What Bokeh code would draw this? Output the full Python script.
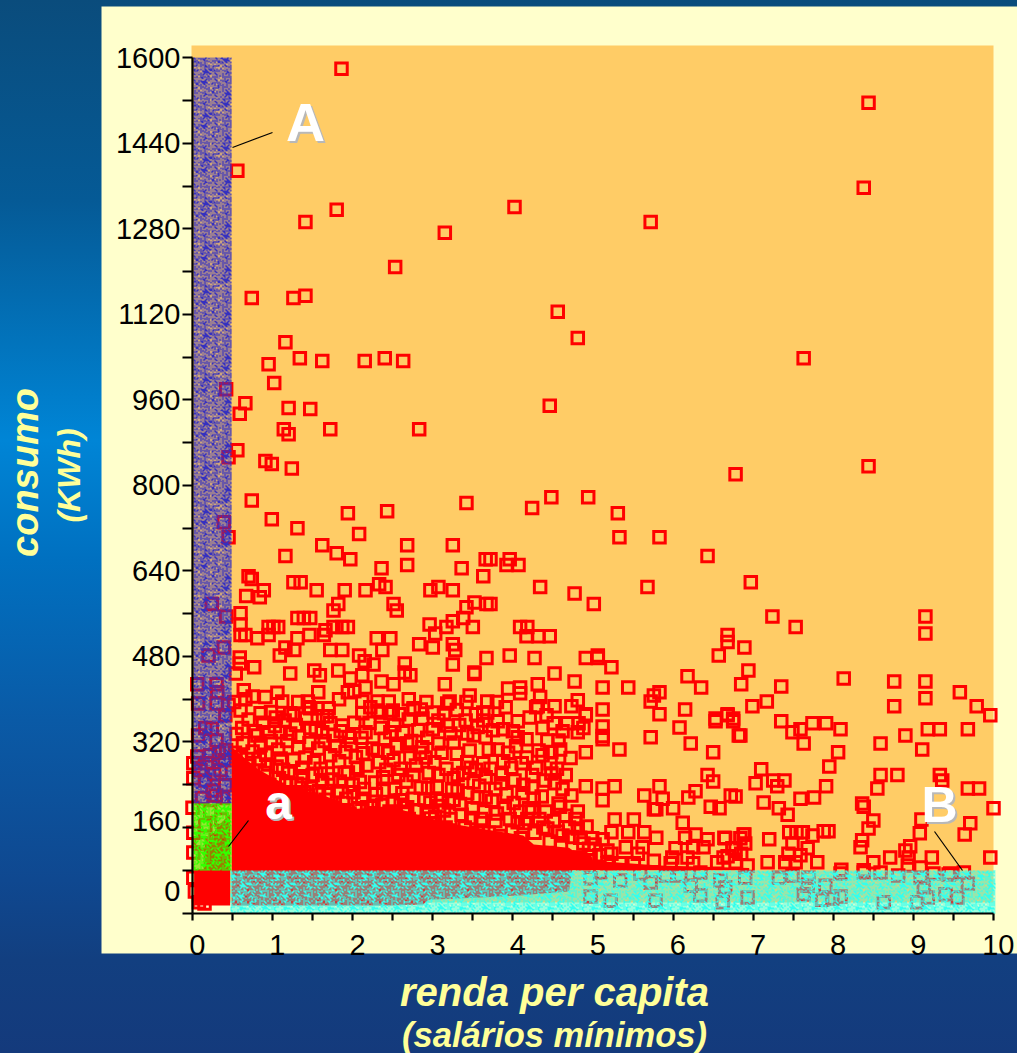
import numpy as np
from bokeh.embed import file_html
from bokeh.resources import INLINE
from bokeh.plotting import figure
from bokeh.models import ColumnDataSource, FixedTicker, GlobalInlineStyleSheet, Range1d
from bokeh.core.properties import value

# (renda per capita, consumo)
pontos_altos = [(1.86,1580),(8.44,1516),(8.38,1357),(0.56,1389),(1.41,1293),(1.80,1316),(3.15,1273),(4.02,1321),(5.72,1293),(2.53,1209),(0.74,1151),(1.26,1151),(1.41,1155),(4.56,1125),(1.16,1068),(4.81,1076),(0.95,1027),(1.34,1038),(1.62,1033),(2.15,1033),(2.40,1038),(2.63,1033),(7.63,1038),(1.02,992),(0.42,980),(1.20,945),(0.66,954),(0.59,934),(1.47,943),(4.46,949),(1.72,905),(1.14,905),(1.20,896),(2.83,905),(0.56,866),(0.45,853),(0.91,846),(0.99,840),(1.24,832),(6.78,821),(8.44,836)]
pontos_700 = [(0.74,772),(0.99,737),(1.31,720),(1.94,748),(2.43,752),(3.42,767),(2.08,709),(0.39,731),(0.45,703),(1.62,688),(1.80,673),(1.97,662),(1.16,668),(2.68,688),(2.68,651),(3.25,688),(3.66,662),(3.36,645),(2.36,645),(3.63,630),(0.70,630),(0.74,625),(1.26,619),(1.35,619),(0.89,604),(0.84,591),(0.67,593),(1.55,604),(1.90,604),(2.16,604),(2.33,615),(2.41,610),(2.97,604),(3.07,610),(3.25,604),(1.82,578),(1.76,566),(2.51,578),(2.55,566),(0.24,578),(0.42,555),(0.60,561),(1.31,552),(1.39,552),(1.47,552),(3.42,572),(3.52,581),(3.67,578),(3.38,552),(3.25,546),(2.96,540),(3.17,535),(3.03,523),(3.50,535)]
pontos_500 = [(0.60,540),(0.95,535),(1.01,535),(1.07,535),(0.60,520),(0.66,520),(0.81,514),(0.95,520),(1.31,514),(1.46,520),(1.64,520),(1.66,529),(1.76,535),(1.87,535),(1.94,535),(1.16,497),(1.27,492),(1.09,482),(1.72,492),(1.87,492),(2.30,514),(2.47,514),(2.37,492),(2.83,503),(3.00,497),(3.25,503),(3.28,492),(2.08,482),(2.15,471),(2.26,465),(2.65,467),(2.72,445),(2.65,450),(3.25,465),(3.67,477),(3.52,447),(3.52,450),(3.15,428),(3.46,407),(3.21,396),(3.68,396),(0.20,482),(0.39,497),(0.59,478),(0.59,467),(0.77,460),(0.54,448),(1.22,448),(1.52,454),(1.59,445),(1.82,454),(1.97,439),(2.12,445),(2.36,433),(2.51,428),(1.94,413),(2.16,422),(0.06,428),(0.30,428),(0.31,413),(0.64,417),(0.91,404),(1.12,396),(1.57,413),(1.44,396),(0.07,392),(0.45,389),(1.70,383),(2.12,396),(2.31,396),(2.45,396),(2.76,381),(2.85,381),(3.01,375),(0.60,379),(0.85,374),(1.22,374),(1.47,383),(2.12,374),(2.31,379),(2.50,379),(3.63,375)]
pontos_centro = [(4.24,758),(4.48,778),(4.94,778),(5.31,748),(5.33,703),(5.83,703),(6.43,668),(3.96,662),(3.92,651),(4.07,651),(3.72,662),(4.34,610),(4.77,598),(5.01,578),(5.68,610),(3.72,578),(4.18,535),(4.17,518),(4.32,518),(4.46,518),(4.09,535),(3.96,482),(4.27,477),(4.91,477),(5.06,482),(5.06,477),(5.23,460),(4.52,448),(4.77,433),(5.12,422),(5.44,422),(4.09,422),(4.09,411),(4.31,428),(4.34,404),(4.31,387),(4.52,387),(4.73,387),(4.81,398),(4.91,372),(5.12,381),(5.83,413),(5.76,407),(5.72,396),(5.83,372),(6.15,381),(6.68,520),(6.68,507),(6.57,482),(6.89,497),(6.94,454),(6.85,428),(6.18,443),(6.35,422),(6.99,387),(6.68,372),(6.53,364),(6.75,364),(6.97,619)]
pontos_direita = [(7.24,555),(7.53,535),(7.35,424),(7.17,396),(8.13,439),(8.76,433),(8.76,387),(9.15,555),(9.15,523),(9.15,433),(9.15,402),(9.58,413),(9.79,387),(9.96,370),(7.35,359),(7.49,338),(7.59,344),(7.74,355),(7.91,355),(8.09,344),(7.63,317),(8.06,301),(7.95,274),(8.59,317),(8.90,332),(9.18,344),(9.33,344),(9.68,344),(9.11,306),(7.10,269),(7.03,243),(7.25,248),(7.39,248),(7.30,237),(7.91,237),(7.59,214),(7.76,216),(8.59,258),(8.80,258),(8.55,233),(9.33,258),(9.36,248),(9.68,233),(9.82,233),(8.36,205),(6.84,332),(6.72,220),(6.78,218),(7.13,207),(7.32,196),(7.43,184),(10.0,196),(9.71,168),(9.64,147),(8.38,199),(8.50,173),(8.44,158),(9.10,175),(9.08,149),(8.36,136),(8.34,123),(9.96,104),(9.23,104),(8.96,125),(8.90,117),(8.94,104),(8.71,104),(8.50,95),(8.38,80),(8.10,81),(7.80,95),(7.18,95),(7.20,138),(6.93,89),(7.45,151),(7.54,151),(7.62,151),(7.49,130),(7.44,111),(7.59,108),(7.40,95),(7.53,95),(7.68,121),(7.74,145),(7.88,153),(7.94,153),(6.89,147),(6.84,140),(6.65,140),(6.74,121),(6.63,104),(8.93,89),(9.09,85),(9.46,74),(9.63,76)]
pontos_faixa = [(6.90,66),(7.32,66),(7.49,70),(7.69,66),(8.09,74),(8.38,76),(8.59,76),(8.81,70),(9.09,66),(9.25,74),(9.44,72),(9.68,55),(9.13,48),(7.68,51),(7.90,51),(7.63,35),(6.93,29),(8.09,31),(7.86,25),(7.99,27),(8.63,20),(9.05,20),(9.18,29),(9.40,35),(9.55,29),(6.62,20),(6.65,48),(4.97,65),(4.97,31),(5.22,23),(5.78,23),(5.72,57),(6.09,70),(6.34,76),(6.59,61),(6.34,33),(5.09,76),(5.34,61),(5.59,74),(5.91,70),(6.22,51)]
pontos_meio = [(4.06,359),(3.88,344),(3.81,359),(4.37,346),(4.51,355),(4.68,355),(4.82,355),(4.91,370),(4.81,338),(4.88,346),(5.12,349),(5.12,331),(5.12,325),(5.72,329),(6.08,347),(6.22,317),(6.53,359),(6.68,370),(6.75,359),(6.82,332),(6.50,301),(6.43,258),(6.50,246),(5.33,306),(4.91,301),(4.06,329),(4.17,325),(4.43,323),(4.57,323),(4.59,306),(4.37,295),(4.17,291),(4.48,301),(3.81,306),(3.88,284),(4.47,280),(4.48,261),(4.52,243),(3.86,259),(4.24,258),(4.02,248),(3.85,243),(4.24,235),(4.91,237),(4.73,220),(5.12,233),(5.12,211),(5.27,237),(4.57,205),(4.59,199),(4.81,190),(4.26,214),(4.09,190),(4.24,190),(5.64,220),(5.83,237),(5.87,214),(5.76,194),(5.79,194),(6.00,196),(6.19,216),(6.28,228),(6.47,199),(6.58,196),(5.27,175),(5.51,175),(6.12,169),(5.64,151),(5.23,151),(5.44,151),(4.81,158),(4.43,158),(4.62,145),(4.84,141),(5.12,138),(5.79,141),(6.28,147),(6.15,141),(6.43,138),(6.64,141),(6.88,147),(6.03,121),(5.18,117),(5.41,123),(5.62,123),(6.38,123),(6.78,121),(6.90,130),(6.25,123),(4.97,106),(4.84,104),(5.23,111),(5.56,111),(5.99,104),(6.18,104),(6.68,106),(6.85,111),(5.18,93),(5.51,93),(5.76,98),(6.25,93),(6.55,95),(6.78,95),(5.97,93),(4.88,93),(5.34,93)]
pontos_densos = [(1.04,366),(1.26,370),(1.45,385),(1.56,383),(1.72,355),(1.87,351),(2.35,375),(2.47,374),(2.76,383),(2.87,364),(3.18,392),(3.18,351),(3.07,360),(3.63,360),(3.68,375),(0.62,346),(0.81,332),(0.95,338),(1.10,338),(1.22,336),(1.47,346),(1.62,338),(1.76,332),(1.95,329),(2.16,338),(2.35,346),(2.47,338),(2.68,317),(2.87,310),(3.07,317),(3.26,319),(3.51,332),(3.66,329),(3.43,336),(0.85,314),(1.10,289),(1.32,310),(1.41,291),(1.57,308),(1.72,295),(1.91,301),(2.13,299),(2.31,304),(2.51,286),(2.72,291),(2.91,291),(3.07,258),(3.31,258),(3.43,282),(3.63,280),(3.47,272),(1.37,272),(1.50,258),(1.69,261),(1.94,263),(2.06,272),(2.38,254),(2.57,258),(2.76,258),(3.26,252),(3.51,244),(3.66,254),(2.97,207),(3.10,211),(3.20,207),(3.56,216),(3.66,216),(2.18,198),(2.38,229),(2.60,211),(2.68,198),(2.97,177),(3.63,151),(3.31,229),(3.43,224),(2.85,235)]
pontos_esquerda = [(0.01,280),(0.01,252),(0.0,197),(0.01,150),(0.01,113),(0.01,66),(0.03,40),(0.08,20),(0.15,18),(0.30,392),(0.16,346),(0.30,323),(0.06,293),(0.22,295),(0.35,267),(0.16,248),(0.41,239),(0.29,220),(0.16,164),(0.29,136),(0.40,286),(0.10,267),(0.25,229),(0.41,370),(0.07,332),(0.33,300),(0.18,280),(0.27,260),(0.38,215),(0.12,215),(0.22,190),(0.36,175),(0.10,130),(0.42,305),(0.24,345)]
pontos_massa_a = [(0.55,335),(0.63,318),(0.70,362),(0.75,302),(0.78,340),(0.88,356),(0.92,296),(0.98,322),(1.03,350),(1.07,306),(1.13,268),(1.15,360),(1.18,322),(1.26,287),(1.29,352),(1.33,330),(1.38,256),(1.42,364),(1.46,318),(1.52,282),(1.54,342),(1.60,270),(1.65,322),(1.68,368),(1.74,250),(1.78,312),(1.83,284),(1.85,340),(1.90,262),(1.98,316),(2.02,356),(2.04,292),(2.09,245),(2.11,328),(2.17,276),(2.21,356),(2.25,308),(2.28,244),(2.33,282),(2.40,326),(2.42,268),(2.44,300),(2.52,352),(2.55,312),(2.60,270),(2.63,338),(2.67,246),(2.70,362),(2.73,322),(2.79,276),(2.82,342),(2.84,300),(2.93,328),(2.95,262),(3.00,344),(3.02,282),(3.05,236),(3.11,300),(3.14,374),(3.17,270),(3.22,336),(3.24,232),(3.30,298),(3.33,352),(3.38,262),(3.41,360),(3.46,304),(3.54,268),(3.56,348),(3.58,238),(3.70,306),(3.72,270),(3.75,342),(3.78,232)]
pontos_massa_b = [(0.58,270),(0.68,288),(0.72,250),(0.90,262),(0.96,240),(1.05,274),(1.17,244),(1.24,226),(1.36,240),(1.44,220),(1.58,228),(1.66,212),(1.81,228),(1.88,206),(2.01,226),(2.12,214),(2.23,198),(2.29,222),(2.46,190),(2.53,232),(2.64,186),(2.75,214),(2.80,192),(2.90,212),(3.03,180),(3.14,192),(3.26,212),(3.36,184),(3.50,196),(3.60,176),(3.74,210),(3.80,186),(3.92,222),(3.96,176),(4.01,206),(4.12,224),(4.15,168),(4.20,196),(4.33,176),(4.36,218),(4.41,190),(4.51,172),(4.66,182),(4.70,160),(4.78,176),(4.92,162),(4.99,140),(3.94,300),(3.98,272),(4.04,312),(4.11,280),(4.13,240),(4.29,272),(4.32,304),(4.40,248),(4.55,270),(4.62,232),(4.66,258),(4.72,290),(3.91,385),(4.00,340),(4.21,366),(4.29,385),(4.42,370),(4.62,340),(0.52,395),(0.66,400),(0.75,405),(0.98,376),(1.06,412),(1.32,395),(1.63,368),(1.83,400),(2.02,415),(2.22,385),(2.58,372),(2.70,400),(2.92,395),(3.30,380),(3.42,395),(3.54,372),(3.80,395),(3.94,420)]
pontos_massa_c = [(0.53,300),(0.60,292),(0.66,262),(0.71,276),(0.79,248),(0.84,288),(0.87,238),(0.94,278),(1.00,234),(1.08,252),(1.12,222),(1.20,262),(1.28,216),(1.30,242),(1.35,208),(1.40,226),(1.48,234),(1.56,204),(1.62,244),(1.70,222),(1.76,196),(1.84,246),(1.92,214),(1.96,186),(2.00,240),(2.08,196),(2.14,232),(2.20,180),(2.26,208),(2.32,172),(2.37,202),(2.43,178),(2.50,206),(2.56,172),(2.62,224),(2.70,176),(2.78,192),(2.86,166),(2.94,234),(3.00,168),(3.08,200),(3.16,160),(3.22,176),(3.34,204),(3.40,160),(3.48,178),(3.56,150),(3.64,190),(3.70,150),(3.78,172),(3.84,144),(3.90,196),(3.99,152),(4.06,170),(4.10,140),(4.18,176),(4.27,150),(4.38,160),(4.46,134),(4.56,152),(4.60,128),(4.74,142),(4.88,130),(4.95,120),(5.02,128),(5.08,108)]

# saturated zone, where the squares merge into solid red
denso_x = [0.49,0.81,1.22,1.64,2.06,2.47,2.88,2.95,3.31,3.72,4.13,4.26,4.70,4.74,4.97,5.00,5.83,6.95]
denso_topo = [310,270,235,220,195,200,180,178,165,155,145,128,122,118,112,98,89,84]
denso_base = [14,14,14,14,14,14,16,25,27,30,33,35,40,80,80,80,80,80]
bloco_x = [0.02,0.47]
bloco_topo = [82,82]
bloco_base = [14,14]
bloco_verde_x = [0.14,0.22,0.30,0.47]
bloco_verde_topo = [115,135,160,185]
bloco_verde_base = [80,80,80,80]

x_major = [0,1,2,3,4,5,6,7,8,9,10]
x_minor = [0.5,1.5,2.5,3.5,4.5,5.5,6.5,7.5,8.5,9.5]
y_major = [0,160,320,480,640,800,960,1120,1280,1440,1600]
y_minor = [80,240,400,560,720,880,1040,1200,1360,1520]
y_label_override = ["160","0"]
y_label_value = [172,42]

FONT = "Liberation Sans"
PX_X = 80.1
PX_Y = 0.5344
x0_px, y0_px = 192.0, 912.5

def dx(px): return (px - x0_px) / PX_X
def dy(py): return (y0_px - py) / PX_Y

W, H = 1017, 1053
p = figure(width=W, height=H, output_backend="svg", toolbar_location=None,
           x_range=Range1d(dx(0), dx(W)), y_range=Range1d(dy(H), dy(0)),
           min_border=0, x_axis_type="linear", y_axis_type="linear")
p.border_fill_alpha = 0
p.background_fill_alpha = 0
p.outline_line_color = None
p.grid.visible = False

css = ("html,body{margin:0;padding:0;overflow:hidden;}"
       "html{background:"
       "linear-gradient(180deg,#0a4c7c 0px,#055a96 200px,#0085d6 440px,#0070c0 560px,"
       "#0a5aa6 720px,#0f4890 880px,#123f80 960px,#143a7c 1053px) no-repeat !important;}"
       "body{background:transparent !important;}")
p.stylesheets = [GlobalInlineStyleSheet(css=css)]

# panel and plot field
p.quad(left=[dx(101)], right=[dx(1030)], top=[dy(6)], bottom=[dy(953)], fill_color="#ffffcc", line_color=None)
p.quad(left=[dx(191)], right=[10], top=[dy(45)], bottom=[dy(902)], fill_color="#ffcc66", line_color=None)

# solid saturation
p.varea(x=denso_x, y1=denso_base, y2=denso_topo, fill_color="#ff0000")
p.varea(x=bloco_x, y1=bloco_base, y2=bloco_topo, fill_color="#ff0000")
p.varea(x=bloco_verde_x, y1=bloco_verde_base, y2=bloco_verde_topo, fill_color="#ff0000")

todos = (pontos_altos + pontos_700 + pontos_500 + pontos_centro + pontos_direita +
         pontos_faixa + pontos_meio + pontos_densos + pontos_esquerda +
         pontos_massa_a + pontos_massa_b + pontos_massa_c)
src = ColumnDataSource(dict(x=[a for a, _ in todos], y=[b for _, b in todos]))
p.scatter("x", "y", source=src, marker="square", size=11.5, line_width=3,
          line_color="#ff0000", line_join="miter", fill_alpha=0)


def textura(w, h, rgb, dens):
    # fine dither pattern for the highlighted map regions
    bayer = np.array([[0, 8, 2, 10], [12, 4, 14, 6], [3, 11, 1, 9], [15, 7, 13, 5]]) / 16.0
    jj, ii = np.mgrid[0:h, 0:w]
    t = bayer[jj % 4, ii % 4]
    w2 = ((ii * ii * 3 + jj * jj * 5 + ii * jj) % 11) / 11.0
    m = (0.55 * t + 0.45 * w2) < dens
    r, g, b = rgb
    a = np.where(m, 0xff000000, 0).astype(np.uint32)
    c = a | (np.where(m, 1, 0).astype(np.uint32) * ((b << 16) | (g << 8) | r))
    return c.astype(np.uint32)

def regiao(px_l, px_r, py_t, py_b, rgb, dens):
    w = int(round(px_r - px_l)); h = int(round(py_b - py_t))
    p.image_rgba(image=[textura(w, h, rgb, dens)], x=dx(px_l), y=dy(py_b),
                 dw=dx(px_r) - dx(px_l), dh=dy(py_t) - dy(py_b))

regiao(193, 231, 57, 803, (0x35, 0x30, 0xc0), 0.56)   # A
regiao(193, 231, 803, 870, (0x33, 0xff, 0x00), 0.62)  # a
regiao(230, 995, 870, 913, (0x33, 0xff, 0xee), 0.58)  # B

# leader lines
p.segment(x0=[dx(232), dx(228), dx(934)], y0=[dy(147), dy(846), dy(831)],
          x1=[dx(272), dx(248), dx(962)], y1=[dy(132), dy(820), dy(870)],
          line_color="#000000", line_width=1.2)

# region letters with their shadow
for txt, px, py, size in [("A", 305, 121, "54px"), ("a", 278, 802, "48px"), ("B", 939, 804, "50px")]:
    for col, off in [("#b8b8b8", 2), ("#ffffff", 0)]:
        p.text(x=[dx(px)], y=[dy(py)], text=[txt], text_color=col, text_align="center",
               text_baseline="alphabetic", text_font=value(FONT), text_font_style="bold",
               text_font_size=size, x_offset=off, y_offset=off)

# axis titles
tit = "#ffff99"
p.text(x=[dx(24)], y=[dy(472)], text=["consumo"], angle=np.pi / 2, text_color=tit, text_align="center",
       text_baseline="middle", text_font=value(FONT), text_font_style="bold italic", text_font_size="38px")
p.text(x=[dx(68)], y=[dy(475)], text=["(KWh)"], angle=np.pi / 2, text_color=tit, text_align="center",
       text_baseline="middle", text_font=value(FONT), text_font_style="bold italic", text_font_size="32px")
p.text(x=[dx(554)], y=[dy(991)], text=["renda per capita"], text_color=tit, text_align="center",
       text_baseline="middle", text_font=value(FONT), text_font_style="bold italic", text_font_size="40px")
p.text(x=[dx(554)], y=[dy(1034)], text=["(salários mínimos)"], text_color=tit, text_align="center",
       text_baseline="middle", text_font=value(FONT), text_font_style="bold italic", text_font_size="34.5px")

# y tick labels that sit above their ticks in the original
p.text(x=[dx(180)] * 2, y=y_label_value, text=y_label_override, text_color="#000000", text_align="right",
       text_baseline="middle", text_font=value(FONT), text_font_size="29px")

xa = p.xaxis[0]
xa.fixed_location = 0
xa.bounds = (0, 10)
xa.ticker = FixedTicker(ticks=x_major, minor_ticks=x_minor)
xa.major_label_overrides = {int(v): "\u2004" + str(v) for v in x_major}
ya = p.yaxis[0]
ya.fixed_location = 0
ya.bounds = (0, 1600)
ya.ticker = FixedTicker(ticks=y_major, minor_ticks=y_minor)
ya.major_label_overrides = {160: "", 0: ""}
for ax, t, st in [(xa, 7, 9), (ya, 10, 2)]:
    ax.axis_line_color = "#000000"
    ax.axis_line_width = 2.2
    ax.major_tick_line_color = "#000000"
    ax.major_tick_line_width = 2.2
    ax.minor_tick_line_color = "#000000"
    ax.minor_tick_line_width = 2.2
    ax.major_tick_in = 0
    ax.major_tick_out = t
    ax.minor_tick_in = 0
    ax.minor_tick_out = t
    ax.major_label_text_font = FONT
    ax.major_label_text_font_size = "29px"
    ax.major_label_text_color = "#000000"
    ax.major_label_standoff = st

open("out.html", "w").write(file_html(p, INLINE))
